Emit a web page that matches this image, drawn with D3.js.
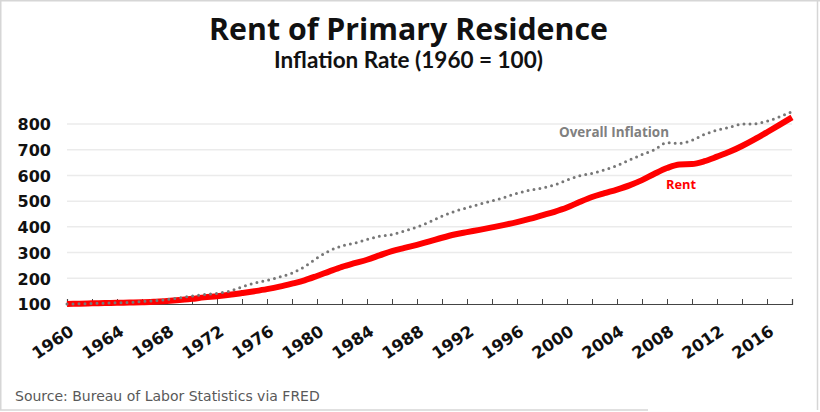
<!DOCTYPE html>
<html>
<head>
<meta charset="utf-8">
<script src="https://cdn.jsdelivr.net/npm/d3@7"></script>
<style>
  html, body { margin: 0; padding: 0; background: #fff; }
  svg { display: block; }
</style>
</head>
<body>
<svg id="chart" width="820" height="412"></svg>
<script>
// ---- Data (index, 1960 = 100) ----
const years = [1960,1961,1962,1963,1964,1965,1966,1967,1968,1969,
  1970,1971,1972,1973,1974,1975,1976,1977,1978,1979,
  1980,1981,1982,1983,1984,1985,1986,1987,1988,1989,
  1990,1991,1992,1993,1994,1995,1996,1997,1998,1999,
  2000,2001,2002,2003,2004,2005,2006,2007,2008,2009,
  2010,2011,2012,2013,2014,2015,2016,2017,2018];

const rent = [100.0,101.3,102.6,103.6,104.7,105.7,106.7,108.8,111.4,115.2,
  120.2,125.8,130.2,135.7,142.6,149.9,157.9,167.4,179.1,192.0,
  209.0,227.1,244.4,258.7,272.1,288.9,305.7,318.1,330.2,343.2,
  357.6,370.3,379.6,388.4,397.9,407.8,418.6,430.7,444.7,458.7,
  475.2,496.4,516.0,531.0,545.2,561.5,581.7,606.5,628.7,642.9,
  644.4,655.3,672.9,691.7,714.5,740.3,768.0,796.6,825.8];

const overall = [100.0,101.0,102.0,103.4,104.7,106.4,109.5,112.8,117.6,124.0,
  131.1,136.8,141.2,150.0,166.6,181.8,192.2,204.7,220.3,245.3,
  278.4,307.1,326.0,336.5,351.0,363.5,370.3,383.8,399.7,418.9,
  441.6,460.1,474.0,488.2,500.7,514.9,530.1,542.2,550.7,562.8,
  581.8,598.3,607.8,621.6,638.2,659.8,681.1,700.3,727.4,724.7,
  736.8,759.8,775.7,787.2,799.7,800.7,810.8,828.0,848.3];

const yTickValues = [100, 200, 300, 400, 500, 600, 700, 800];
const xTickLabels = [1960,1964,1968,1972,1976,1980,1984,1988,1992,1996,2000,2004,2008,2012,2016];

const titleText = "Rent of Primary Residence";
const subtitleText = "Inflation Rate (1960 = 100)";
const sourceText = "Source: Bureau of Labor Statistics via FRED";
const rentLabel = "Rent";
const overallLabel = "Overall Inflation";

(function () {
// ---- Layout ----
const svg = d3.select("#chart");
const W = 820, H = 412;
const mLeft = 67, mRight = 792, mTop = 124, mBottom = 304;

const x = d3.scaleLinear().domain([1960, 2018]).range([mLeft, mRight]);
const y = d3.scaleLinear().domain([100, 800]).range([mBottom, mTop]);

// frame
const frame = svg.append("g").attr("stroke", "#d6d6d6").attr("stroke-width", 1.5);
frame.append("line").attr("x1", 0).attr("x2", W).attr("y1", 0.75).attr("y2", 0.75);
frame.append("line").attr("x1", 0.75).attr("x2", 0.75).attr("y1", 0).attr("y2", 410);
frame.append("line").attr("x1", W - 2.5).attr("x2", W - 2.5).attr("y1", 0).attr("y2", 410);
frame.append("line").attr("x1", 0).attr("x2", 648).attr("y1", 410).attr("y2", 410);

function fit(sel, target) {
  const fs = parseFloat(sel.attr("font-size"));
  const w = sel.node().getComputedTextLength();
  if (w > 0) sel.attr("font-size", (fs * target / w).toFixed(2));
  return sel;
}

// titles
const title = svg.append("text")
  .attr("x", 408.5).attr("y", 39.5)
  .attr("text-anchor", "middle")
  .attr("font-family", "'Open Sans', Lato, sans-serif")
  .attr("font-weight", 700).attr("font-size", 28).attr("fill", "#111")
  .text(titleText);
fit(title, 399);

const subtitle = svg.append("text")
  .attr("x", 408.5).attr("y", 68)
  .attr("text-anchor", "middle")
  .attr("font-family", "Lato, 'Open Sans', sans-serif")
  .attr("font-weight", 700).attr("font-size", 20).attr("fill", "#111")
  .text(subtitleText);
fit(subtitle, 269);

// gridlines
svg.append("g")
  .selectAll("line")
  .data(yTickValues.filter(v => v > 100))
  .join("line")
  .attr("x1", mLeft).attr("x2", mRight)
  .attr("y1", d => y(d)).attr("y2", d => y(d))
  .attr("stroke", "#ebebeb").attr("stroke-width", 1.5);

// y axis labels
const yAxis = d3.axisLeft(y).tickValues(yTickValues).tickSize(0).tickPadding(0).tickFormat(d3.format("d"));
const yg = svg.append("g").attr("transform", `translate(51,0)`).call(yAxis);
yg.select(".domain").remove();
yg.selectAll("text")
  .attr("font-family", "'DejaVu Sans', sans-serif")
  .attr("font-weight", 700).attr("font-size", 16).attr("fill", "#111")
  .attr("dy", "0.36em");

// x axis
const xAxis = d3.axisBottom(x)
  .tickValues(d3.range(1960, 2019, 2))
  .tickSize(-5)
  .tickFormat("");
const xg = svg.append("g").attr("transform", `translate(0,${mBottom})`).call(xAxis);
xg.select(".domain").attr("stroke", "#444").attr("stroke-width", 1.2);
xg.selectAll(".tick line").attr("stroke", "#444").attr("stroke-width", 1);

// x labels (rotated)
svg.append("g")
  .selectAll("text")
  .data(xTickLabels)
  .join("text")
  .attr("transform", d => `translate(${x(d) + 8},334) rotate(-34)`)
  .attr("text-anchor", "end")
  .attr("font-family", "'DejaVu Sans', sans-serif")
  .attr("font-weight", 700).attr("font-size", 16.5).attr("fill", "#111")
  .text(d => d);

// lines
const rentData = years.map((yr, i) => [yr, rent[i]]);
const overallData = years.map((yr, i) => [yr, overall[i]]);
const line = d3.line().x(d => x(d[0])).y(d => y(d[1])).curve(d3.curveMonotoneX);

svg.append("path")
  .datum(rentData)
  .attr("d", line)
  .attr("fill", "none")
  .attr("stroke", "#ff0000")
  .attr("stroke-width", 6)
  .attr("stroke-linejoin", "round")
  .attr("stroke-linecap", "butt");

svg.append("path")
  .datum(overallData)
  .attr("d", line)
  .attr("fill", "none")
  .attr("stroke", "#777777")
  .attr("stroke-width", 3)
  .attr("stroke-dasharray", "0,6")
  .attr("stroke-linecap", "round");

// series labels
const ol = svg.append("text")
  .attr("x", 559).attr("y", 137)
  .attr("font-family", "'Open Sans', Lato, sans-serif")
  .attr("font-weight", 700).attr("font-size", 12.5).attr("fill", "#808080")
  .text(overallLabel);
fit(ol, 110);

const rl = svg.append("text")
  .attr("x", 666).attr("y", 188.5)
  .attr("font-family", "'Open Sans', Lato, sans-serif")
  .attr("font-weight", 700).attr("font-size", 12.5).attr("fill", "#ff0000")
  .text(rentLabel);
fit(rl, 30);

// source
const src = svg.append("text")
  .attr("x", 15).attr("y", 400.5)
  .attr("font-family", "'DejaVu Sans', Verdana, sans-serif")
  .attr("font-size", 13).attr("fill", "#595959")
  .text(sourceText);
fit(src, 305);
})();
</script>
</body>
</html>
